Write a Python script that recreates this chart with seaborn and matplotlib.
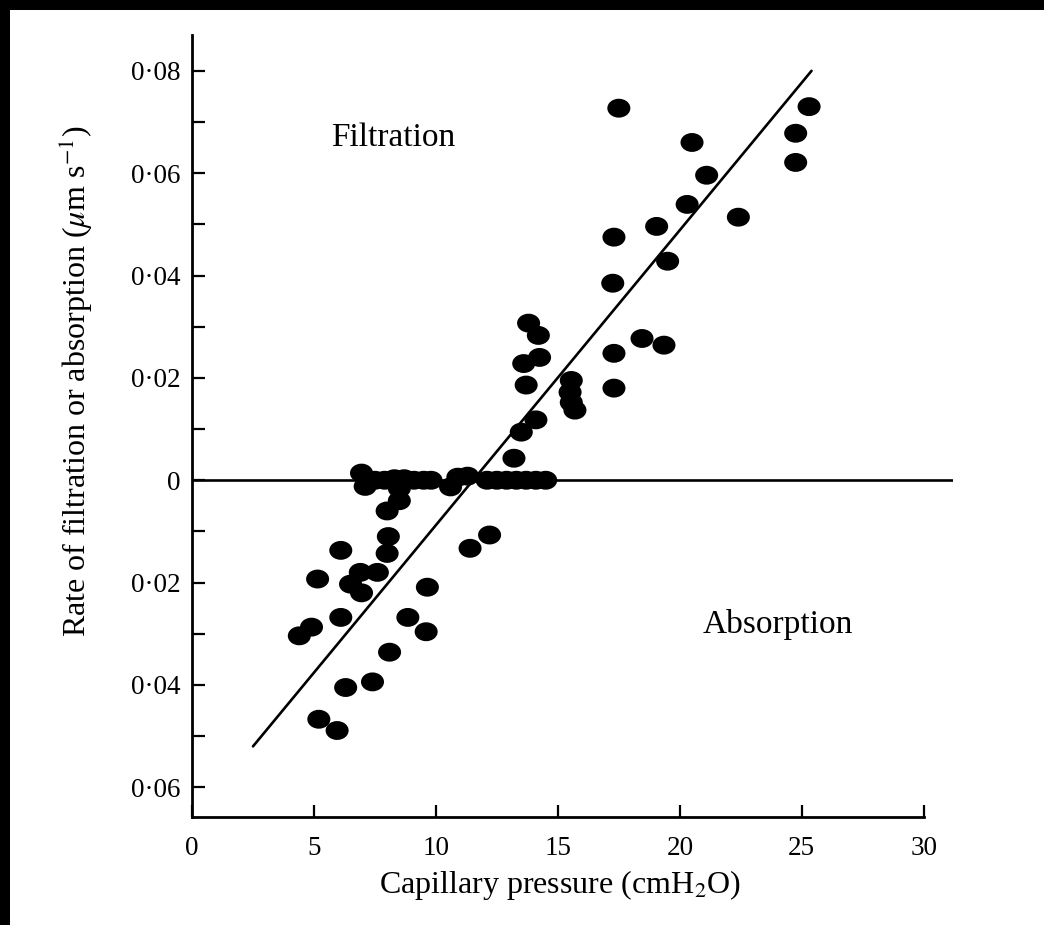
import matplotlib
matplotlib.use("Agg")
import matplotlib.pyplot as plt
from matplotlib.path import Path
from matplotlib.patches import Rectangle
import seaborn as sns
import numpy as np
import pandas as pd

# capillary pressure (cmH2O) vs rate of filtration(+)/absorption(-) (um/s)
pressure = [17.5, 25.3, 24.75, 24.75, 20.5, 21.1, 20.3, 22.4, 19.05, 19.5,
            17.3, 17.25, 18.45, 19.35, 17.3, 17.3,
            13.8, 14.2, 14.25, 13.6, 13.7, 15.55, 15.5, 15.55, 15.7, 14.1,
            13.5, 13.2,
            6.95, 7.1, 7.5, 7.9, 8.3, 8.7, 9.1, 9.5, 9.8, 8.5, 8.5, 8.0,
            10.6, 10.9, 11.3, 12.1, 12.5, 12.9, 13.3, 13.7, 14.1, 14.5,
            8.05, 8.0, 6.1, 12.2, 11.4, 5.15, 6.9, 7.6, 6.5, 6.95,
            9.65, 6.1, 8.85, 9.6, 4.9, 4.4, 8.1, 6.3, 7.4, 5.2, 5.95]
rate = [0.0727, 0.073, 0.0678, 0.0621, 0.066, 0.0596, 0.0539, 0.0514, 0.0496, 0.0428,
        0.0475, 0.0385, 0.0277, 0.0264, 0.0248, 0.018,
        0.0307, 0.0283, 0.024, 0.0228, 0.0186, 0.0195, 0.0172, 0.0152, 0.0137, 0.0118,
        0.0094, 0.0043,
        0.0014, -0.0012, 0.0, 0.0, 0.0003, 0.0003, 0.0, 0.0, 0.0, -0.0016, -0.004, -0.006,
        -0.0013, 0.0006, 0.0008, 0.0, 0.0, 0.0, 0.0, 0.0, 0.0, 0.0,
        -0.011, -0.0143, -0.0137, -0.0107, -0.0133, -0.0193, -0.018, -0.018, -0.0203, -0.022,
        -0.0209, -0.0268, -0.0268, -0.0296, -0.0287, -0.0304, -0.0336, -0.0405, -0.0394,
        -0.0467, -0.0489]

fit_x = [2.5, 25.4]
fit_y = [-0.052, 0.080]

xticks = [0, 5, 10, 15, 20, 25, 30]
yticks = [-0.06, -0.04, -0.02, 0, 0.02, 0.04, 0.06, 0.08]
ytick_labels = ["0·06", "0·04", "0·02", "0", "0·02", "0·04", "0·06", "0·08"]

df = pd.DataFrame({"pressure": pressure, "rate": rate})

sns.set_style("ticks")
plt.rcParams["font.family"] = ["Liberation Serif", "DejaVu Serif"]
plt.rcParams["mathtext.fontset"] = "stix"
for k in ["text.color", "axes.labelcolor", "xtick.color", "ytick.color", "axes.edgecolor"]:
    plt.rcParams[k] = "black"

fig = plt.figure(figsize=(10.44, 9.25), dpi=100, facecolor="black")
fig.patches.append(Rectangle((10 / 1044, 0), 1, 1 - 10 / 925, transform=fig.transFigure,
                             facecolor="white", edgecolor="none", zorder=-10))
ax = fig.add_axes([192 / 1044, 108 / 925, 761 / 1044, 782 / 925])
ax.set_facecolor("white")

circ = Path.unit_circle()
ellipse = Path(circ.vertices * np.array([1.22, 1.0]), circ.codes)

ax.axhline(0, color="black", lw=1.9, zorder=1)
sns.lineplot(x=fit_x, y=fit_y, ax=ax, color="black", lw=1.9, zorder=2)
sns.scatterplot(data=df, x="pressure", y="rate", ax=ax, marker=ellipse, s=275,
                color="black", edgecolor="none", linewidth=0, zorder=3)

ax.set_xlim(0, 31.2)
ax.set_ylim(-0.0658, 0.087)
sns.despine(ax=ax)
ax.spines["bottom"].set_bounds(0, 30)
for s in ["left", "bottom"]:
    ax.spines[s].set_linewidth(2.0)

ax.set_xticks(xticks)
ax.set_xticklabels([str(t) for t in xticks])
ax.set_yticks(yticks)
ax.set_yticklabels(ytick_labels)
ax.set_yticks(np.arange(-0.05, 0.08, 0.02), minor=True)
ax.tick_params(axis="both", which="both", direction="in", length=9, width=1.6,
               colors="black", labelsize=19.5)
ax.tick_params(axis="x", pad=14)
ax.tick_params(axis="y", pad=8)

ax.set_xlabel(r"Capillary pressure (cmH$_2$O)", fontsize=23, va="center")
ax.xaxis.set_label_coords(0.484, -0.087)
ax.set_ylabel(r"Rate of filtration or absorption ($\mu$m s$^{-1}$)", fontsize=23, va="center")
ax.yaxis.set_label_coords(-0.152, 0.557)

ax.text(8.24, 0.067, "Filtration", fontsize=24, ha="center", va="center")
ax.text(24.0, -0.0281, "Absorption", fontsize=24, ha="center", va="center")

fig.savefig("out.png", dpi=100, facecolor=fig.get_facecolor())
